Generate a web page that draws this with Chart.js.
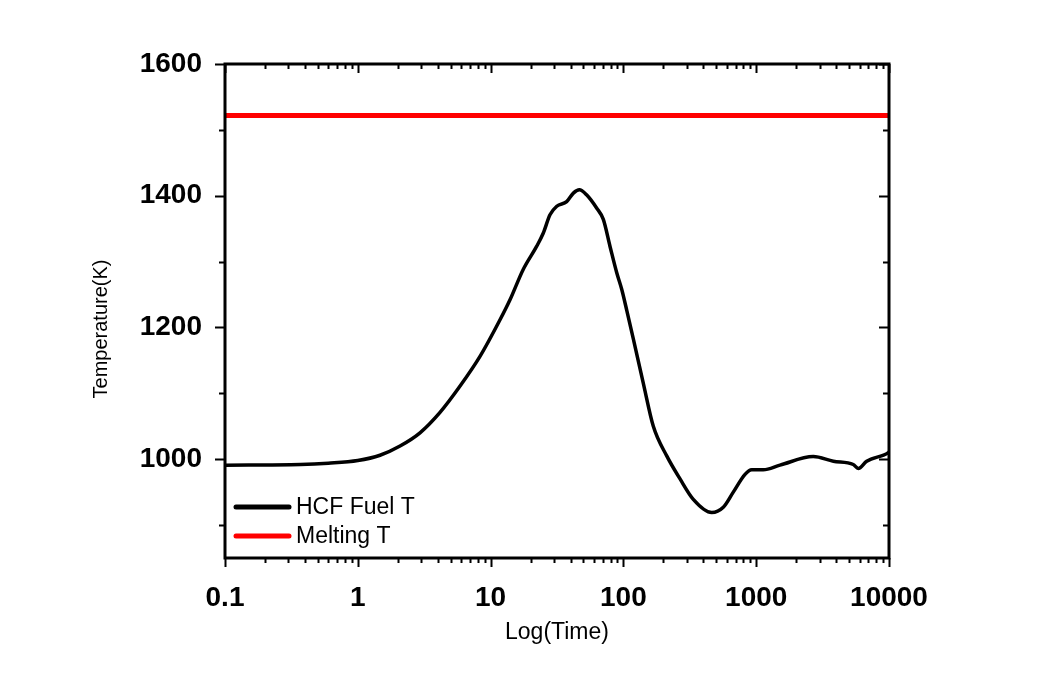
<!DOCTYPE html>
<html>
<head>
<meta charset="utf-8">
<script src="https://cdn.jsdelivr.net/npm/chart.js@4.4.1/dist/chart.umd.min.js"></script>
<style>
  html, body { margin: 0; padding: 0; background: #fff; }
  canvas { display: block; }
</style>
</head>
<body>
<canvas id="chart" width="1042" height="679"></canvas>
<script>
// ---- data ----
const timeValues = [0.1, 0.37, 0.6, 1.0, 1.47, 2.08, 2.94, 4.16, 5.89, 8.32, 11.8, 14.0, 17.6, 22.2, 24.9,
    28.0, 31.5, 37.4, 42.0, 46.6, 53.0, 63.0, 70.6, 79.3, 89.1, 97.1, 106, 119, 141, 168, 212, 267,
    336, 462, 565, 672, 824, 925, 1130, 1510, 2690, 3810, 5380, 5870, 6790, 9880, 10000];
const fuelTemps = [991, 992, 994, 998, 1006, 1020, 1040, 1071, 1111, 1156, 1212, 1242, 1288, 1323, 1343,
    1371, 1384, 1391, 1404, 1409, 1401, 1381, 1364, 1323, 1283, 1258, 1226, 1182, 1116, 1050, 1005, 970,
    939, 919, 927, 950, 977, 984, 984, 991, 1004, 997, 992, 986, 997, 1010, 1011];
const meltingTemp = 1522;
const meltTimes = [0.1, 10000];

const seriesLabels = ["HCF Fuel T", "Melting T"];
const seriesColors = ["#000000", "#ff0000"];

const xMajorTicks = [0.1, 1, 10, 100, 1000, 10000];
const xTickLabels = ["0.1", "1", "10", "100", "1000", "10000"];
const yTicks = [900, 1000, 1100, 1200, 1300, 1400, 1500, 1600];
const yTickLabels = { 1000: "1000", 1200: "1200", 1400: "1400", 1600: "1600" };

const xTitle = "Log(Time)";
const yTitle = "Temperature(K)";

// minor log ticks between majors (2..9 of each decade)
const xAllTicks = [];
xMajorTicks.forEach((m, i) => {
    xAllTicks.push({ value: m, major: true });
    if (i < xMajorTicks.length - 1)
        for (let k = 2; k <= 9; k++) xAllTicks.push({ value: m * k, major: false });
});

const FONT = "'Liberation Sans', Arial, sans-serif";

/* ============================
   Frame, ticks, titles, legend
============================ */
const framePlugin = {
    id: "frame",
    afterDraw(chart) {
        const { ctx, chartArea: a, scales } = chart;
        const xs = scales.x, ys = scales.y;
        ctx.save();
        ctx.strokeStyle = "#000";
        ctx.lineWidth = 2;
        ctx.lineCap = "butt";

        // x ticks: outward at bottom, inward at top
        xAllTicks.forEach((t) => {
            const px = Math.round(xs.getPixelForValue(t.value)) + 0.5;
            const len = t.major ? 9 : 5;
            ctx.beginPath();
            ctx.moveTo(px, a.bottom); ctx.lineTo(px, a.bottom + len);
            ctx.moveTo(px, a.top); ctx.lineTo(px, a.top + len);
            ctx.stroke();
        });
        // y ticks: outward at left, inward at right
        yTicks.forEach((v) => {
            const py = Math.round(ys.getPixelForValue(v)) + 0.5;
            const len = yTickLabels[v] ? 10 : 6;
            ctx.beginPath();
            ctx.moveTo(a.left - len, py); ctx.lineTo(a.left, py);
            ctx.moveTo(a.right - len, py); ctx.lineTo(a.right, py);
            ctx.stroke();
        });

        // box
        ctx.lineWidth = 3;
        ctx.strokeRect(a.left, a.top, a.right - a.left, a.bottom - a.top);

        // axis titles
        ctx.fillStyle = "#000";
        ctx.textAlign = "center";
        ctx.textBaseline = "middle";
        ctx.font = `23px ${FONT}`;
        ctx.fillText(xTitle, (a.left + a.right) / 2, 633);
        ctx.save();
        ctx.translate(101, 329);
        ctx.rotate(-Math.PI / 2);
        ctx.font = `20px ${FONT}`;
        ctx.fillText(yTitle, 0, 0);
        ctx.restore();

        // legend (inside plot, lower left)
        ctx.font = `23px ${FONT}`;
        ctx.textAlign = "left";
        ctx.lineCap = "round";
        ctx.lineWidth = 5;
        seriesLabels.forEach((lab, i) => {
            const y = a.bottom - 51 + i * 29;
            ctx.strokeStyle = seriesColors[i];
            ctx.beginPath();
            ctx.moveTo(a.left + 11, y); ctx.lineTo(a.left + 64, y);
            ctx.stroke();
            ctx.fillText(lab, a.left + 71, y + 1);
        });
        ctx.restore();
    }
};

new Chart(document.getElementById("chart"), {
    type: "scatter",
    data: {
        datasets: [
            {
                label: seriesLabels[0],
                data: timeValues.map((t, i) => ({ x: t, y: fuelTemps[i] })),
                showLine: true,
                borderColor: seriesColors[0],
                borderWidth: 3.5,
                pointRadius: 0,
                cubicInterpolationMode: "monotone",
                order: 2
            },
            {
                label: seriesLabels[1],
                data: meltTimes.map((t) => ({ x: t, y: meltingTemp })),
                showLine: true,
                borderColor: seriesColors[1],
                borderWidth: 5,
                pointRadius: 0,
                order: 1
            }
        ]
    },
    options: {
        responsive: false,
        animation: false,
        devicePixelRatio: 1,
        layout: { padding: { top: 64, right: 153, bottom: 0, left: 0 } },
        plugins: { legend: { display: false }, tooltip: { enabled: false } },
        scales: {
            x: {
                type: "logarithmic",
                min: 0.1,
                max: 10000,
                grid: { display: false },
                border: { display: false },
                afterBuildTicks: (s) => { s.ticks = xAllTicks.map((t) => ({ value: t.value, major: t.major })); },
                afterFit: (s) => { s.height = 121; },
                ticks: {
                    autoSkip: false,
                    maxRotation: 0,
                    padding: 15,
                    color: "#000",
                    font: { family: FONT, size: 28, weight: "bold" },
                    callback: (v) => {
                        const i = xMajorTicks.findIndex((m) => Math.abs(m - v) / m < 1e-6);
                        return i >= 0 ? xTickLabels[i] : "";
                    }
                }
            },
            y: {
                type: "linear",
                min: 850,
                max: 1600,
                grid: { display: false },
                border: { display: false },
                afterBuildTicks: (s) => { s.ticks = yTicks.map((v) => ({ value: v })); },
                afterFit: (s) => { s.width = 225; },
                ticks: {
                    autoSkip: false,
                    padding: 15,
                    color: "#000",
                    font: { family: FONT, size: 28, weight: "bold" },
                    callback: (v) => yTickLabels[v] || ""
                }
            }
        }
    },
    plugins: [framePlugin]
});
</script>
</body>
</html>
